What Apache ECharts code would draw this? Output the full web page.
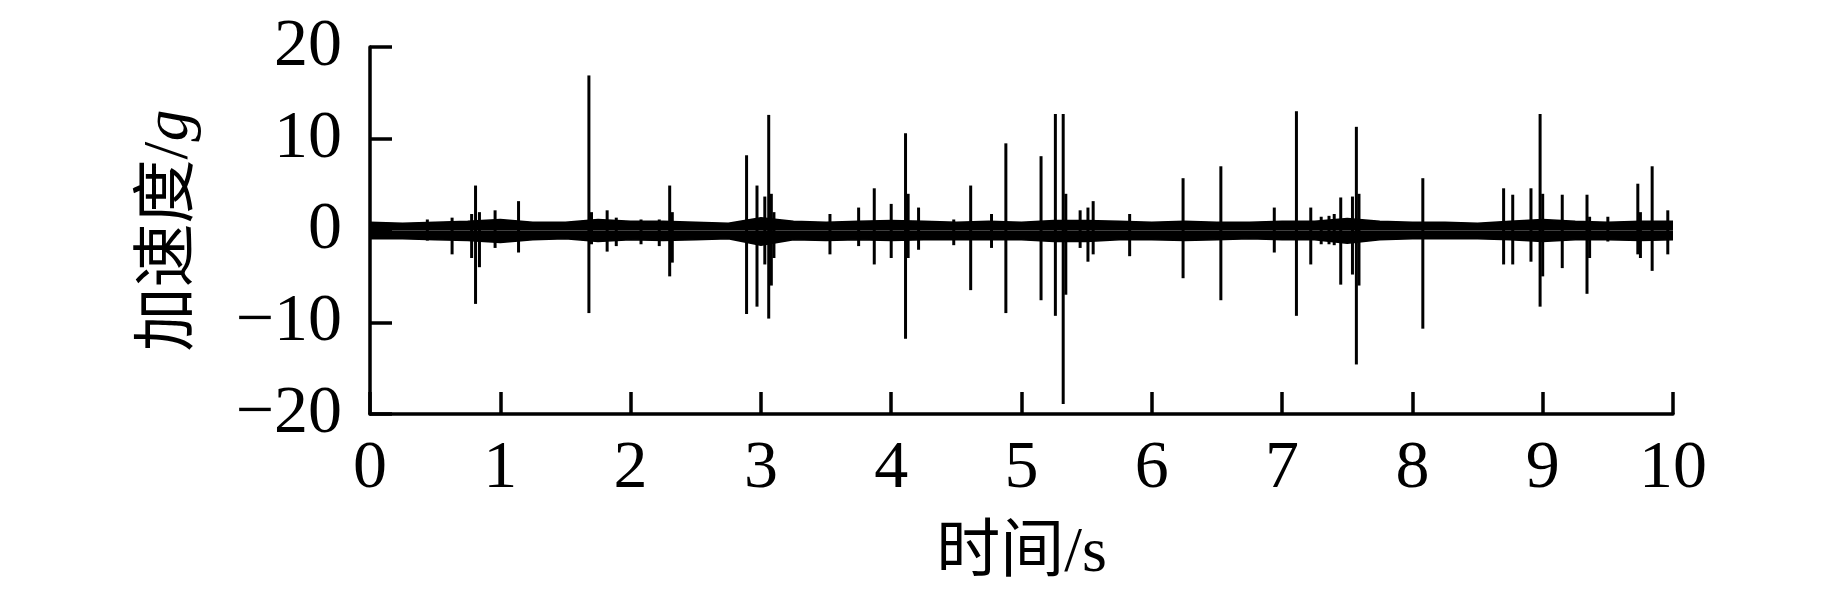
<!DOCTYPE html>
<html>
<head>
<meta charset="utf-8">
<script src="https://cdn.jsdelivr.net/npm/echarts@6/dist/echarts.min.js"></script>
<style>
  html, body { margin: 0; padding: 0; background: #fff; }
  #chart { width: 1843px; height: 598px; }
</style>
</head>
<body>
<div id="chart"></div>
<script>
// ---- Data ----
// x-axis ticks (time, s) and y-axis ticks (acceleration, g)
const xTicks = [0, 1, 2, 3, 4, 5, 6, 7, 8, 9, 10];
const yTicks = [-20, -10, 0, 10, 20];

// Background vibration envelope (upper / lower edge of the dense band)
const bandTimes = [0, 0.25, 0.5, 0.75, 1.0, 1.25, 1.5, 1.75, 2.0, 2.25, 2.5, 2.75, 3.0, 3.25, 3.5, 3.75, 4.0, 4.25, 4.5, 4.75,
                   5.0, 5.25, 5.5, 5.75, 6.0, 6.25, 6.5, 6.75, 7.0, 7.25, 7.5, 7.75, 8.0, 8.25, 8.5, 8.75, 9.0, 9.25, 9.5, 9.75, 10.0];
const bandUpper = [0.9, 0.8, 0.9, 1.0, 1.2, 0.9, 0.9, 1.2, 1.0, 1.0, 0.9, 0.8, 1.4, 1.0, 0.9, 1.0, 1.1, 1.0, 0.9, 1.0,
                   0.9, 1.1, 1.1, 1.0, 0.9, 1.0, 0.9, 0.9, 1.0, 1.0, 1.3, 1.0, 0.9, 0.9, 0.8, 1.0, 1.2, 1.0, 0.9, 1.0, 1.0];
const bandLower = [-0.9, -0.9, -1.0, -1.1, -1.3, -1.0, -0.9, -1.2, -1.0, -1.1, -1.0, -0.9, -1.6, -1.0, -1.1, -1.0, -1.1, -1.0, -1.0, -1.0,
                   -1.0, -1.2, -1.2, -1.0, -1.0, -1.1, -1.0, -0.9, -1.0, -1.0, -1.4, -1.0, -0.9, -0.9, -0.9, -1.0, -1.2, -1.0, -1.0, -1.1, -1.0];

// Impact spikes: time (s), positive peak (g), negative peak (g)
const spikeTimes = [0.44, 0.63, 0.78, 0.81, 0.84, 0.96, 1.14, 1.68, 1.70, 1.82, 1.89, 2.08, 2.22, 2.30, 2.32,
                    2.89, 2.97, 3.03, 3.06, 3.08, 3.10, 3.53, 3.75, 3.87, 4.00, 4.11, 4.13, 4.21, 4.48, 4.61, 4.77, 4.88,
                    5.15, 5.26, 5.32, 5.34, 5.45, 5.51, 5.55, 5.83, 6.24, 6.53, 6.94, 7.11, 7.22, 7.30, 7.36, 7.40,
                    7.45, 7.54, 7.57, 7.59, 8.08, 8.70, 8.77, 8.91, 8.98, 9.00, 9.15, 9.34, 9.36, 9.50, 9.73, 9.75, 9.84, 9.96];
const spikePeaks = [1.2, 1.4, 1.8, 4.9, 2.0, 2.2, 3.2, 16.9, 2.0, 2.2, 1.4, 1.2, 1.2, 4.9, 2.0,
                    8.2, 4.9, 3.7, 12.6, 4.0, 2.0, 1.8, 2.5, 4.6, 2.9, 10.6, 4.0, 2.5, 1.2, 4.9, 1.8, 9.5,
                    8.1, 12.7, 12.7, 4.0, 2.2, 2.5, 3.2, 1.8, 5.7, 7.0, 2.5, 13.0, 2.5, 1.5, 1.6, 1.8,
                    3.6, 3.7, 11.3, 4.0, 5.7, 4.6, 3.9, 4.6, 12.7, 4.0, 3.9, 3.9, 1.5, 1.5, 5.1, 2.0, 7.0, 2.2];
const spikeTroughs = [-1.1, -2.6, -3.0, -8.0, -4.0, -1.9, -2.4, -9.0, -1.5, -2.3, -1.7, -1.5, -1.7, -5.0, -3.5,
                      -9.1, -8.3, -3.7, -9.6, -6.0, -3.0, -2.6, -1.7, -3.7, -3.0, -11.8, -3.0, -2.1, -1.6, -6.5, -1.9, -9.0,
                      -7.6, -9.3, -18.9, -7.0, -1.9, -3.4, -2.6, -2.8, -5.2, -7.6, -2.4, -9.3, -3.7, -1.5, -1.5, -1.6,
                      -5.9, -4.8, -14.6, -6.0, -10.7, -3.7, -3.7, -3.4, -8.3, -5.0, -4.1, -6.9, -3.0, -1.2, -2.6, -3.0, -4.4, -2.6];

// ---- Chart ----
const latin = 'Liberation Serif, Times New Roman, serif';
const mixed = '"Liberation Serif", "Noto Sans CJK SC", serif';

const upperData = bandTimes.map((t, i) => [t, bandUpper[i]]);
const lowerData = bandTimes.map((t, i) => [t, bandLower[i]]);
const spikeData = spikeTimes.map((t, i) => [t, spikePeaks[i], spikeTroughs[i]]);

const chart = echarts.init(document.getElementById('chart'), null, { renderer: 'canvas' });

const axisCommon = {
  axisLine: { show: true, onZero: false, lineStyle: { color: '#000', width: 3.5 } },
  axisTick: { show: true, inside: true, length: 22, lineStyle: { color: '#000', width: 3.5 } },
  splitLine: { show: false }
};

chart.setOption({
  animation: false,
  backgroundColor: '#fff',
  grid: { left: 370, right: 170, top: 47, bottom: 184, containLabel: false },
  xAxis: Object.assign({
    type: 'value',
    min: xTicks[0],
    max: xTicks[xTicks.length - 1],
    interval: 1,
    name: '时间/s',
    nameLocation: 'middle',
    nameGap: 108,
    nameTextStyle: { fontFamily: mixed, fontSize: 64, color: '#000' },
    axisLabel: { color: '#000', fontFamily: latin, fontSize: 68, margin: 21 }
  }, axisCommon),
  yAxis: Object.assign({
    type: 'value',
    min: yTicks[0],
    max: yTicks[yTicks.length - 1],
    interval: 10,
    name: '{c|加速度/}{i|g}',
    nameLocation: 'middle',
    nameGap: 168,
    nameTextStyle: {
      color: '#000',
      rich: {
        c: { fontFamily: mixed, fontSize: 64, color: '#000' },
        i: { fontFamily: latin, fontSize: 64, fontStyle: 'italic', color: '#000' }
      }
    },
    axisLabel: {
      color: '#000', fontFamily: latin, fontSize: 68, margin: 28,
      formatter: v => String(v).replace('-', '\u2212')
    }
  }, axisCommon),
  series: [
    {
      type: 'line',
      data: upperData,
      showSymbol: false,
      symbol: 'none',
      lineStyle: { color: '#000', width: 1.5 },
      areaStyle: { color: '#000', opacity: 1, origin: 0 },
      z: 2
    },
    {
      type: 'line',
      data: lowerData,
      showSymbol: false,
      symbol: 'none',
      lineStyle: { color: '#000', width: 1.5 },
      areaStyle: { color: '#000', opacity: 1, origin: 0 },
      z: 2
    },
    {
      type: 'custom',
      data: spikeData,
      encode: { x: 0, y: [1, 2] },
      z: 3,
      renderItem: function (params, api) {
        const t = api.value(0);
        const top = api.coord([t, api.value(1)]);
        const bot = api.coord([t, api.value(2)]);
        return {
          type: 'line',
          shape: { x1: top[0], y1: top[1], x2: bot[0], y2: bot[1] },
          style: { stroke: '#000', lineWidth: 3 }
        };
      }
    }
  ]
});
</script>
</body>
</html>
